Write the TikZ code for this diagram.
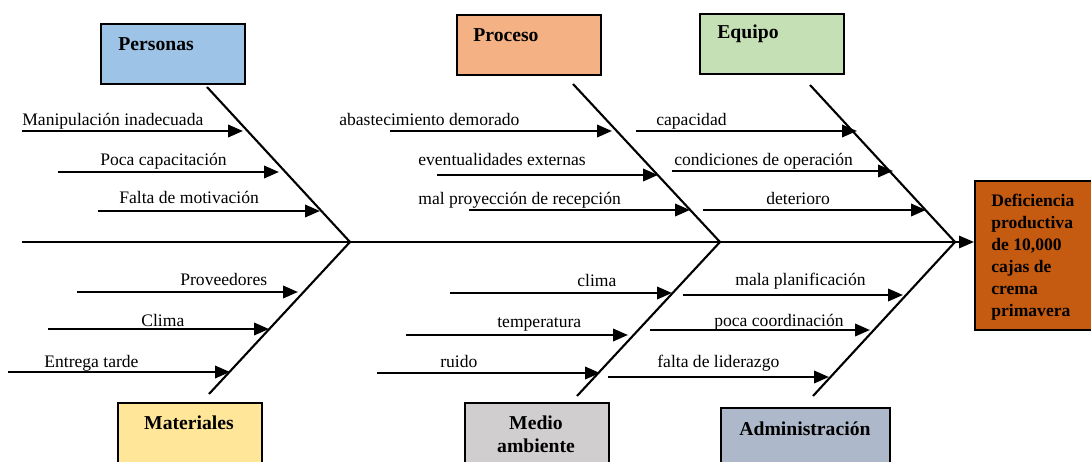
\documentclass[tikz,border=0pt]{standalone}
\usepackage{fontspec}
\setmainfont{Liberation Serif}
\usetikzlibrary{arrows.meta}
\definecolor{cPer}{HTML}{9DC3E6}
\definecolor{cPro}{HTML}{F4B183}
\definecolor{cEqu}{HTML}{C5E0B4}
\definecolor{cMat}{HTML}{FFE699}
\definecolor{cMed}{HTML}{D0CECE}
\definecolor{cAdm}{HTML}{ADB9CA}
\definecolor{cEff}{HTML}{C55A11}
\begin{document}
\begin{tikzpicture}[x=0.02cm,y=-0.02cm,
  catbox/.style={draw=black,line width=1.1pt,anchor=north west,inner sep=0pt,minimum width=2.88cm,minimum height=1.2cm},
  cattext/.style={font=\fontsize{11.2}{13.5}\selectfont\bfseries,inner sep=0pt},
  bone/.style={line width=1.2pt},
  spine/.style={line width=1.2pt,-{Triangle[length=8.5pt,width=7pt]}},
  cause/.style={line width=1.4pt,-{Triangle[length=8.5pt,width=7pt]}},
  lbl/.style={font=\fontsize{10}{12}\selectfont,anchor=base west,inner sep=0pt}]
\clip (0,0) rectangle (1091,462);
% category boxes
\node[catbox,fill=cPer] (per) at (100,23) {};
\node[cattext,anchor=base west] (perT) at (118,51) {Personas};
\node[catbox,fill=cPro] (pro) at (456,14) {};
\node[cattext,anchor=base west] (proT) at (473,42) {Proceso};
\node[catbox,fill=cEqu] (equ) at (699,13) {};
\node[cattext,anchor=base west] (equT) at (717,39) {Equipo};
\node[catbox,fill=cMat,minimum height=1.4cm] (mat) at (117,402) {};
\node[cattext,anchor=base] (matT) at (189,429) {Materiales};
\node[catbox,fill=cMed,minimum height=1.4cm] (med) at (464,402) {};
\node[cattext,anchor=base] (medT1) at (536,429) {Medio};
\node[cattext,anchor=base] (medT2) at (536,452) {ambiente};
\node[catbox,fill=cAdm,minimum width=3.38cm,minimum height=1.4cm] (adm) at (720,407) {};
\node[cattext,anchor=base west] (admT) at (739,435) {Administración};
% effect
\node[draw=black,line width=1.1pt,fill=cEff,anchor=north west,inner sep=0pt,minimum width=2.34cm,minimum height=2.98cm] (eff) at (974,180) {};
\node[anchor=north west,inner sep=0pt,align=left,font=\fontsize{10}{12.5}\selectfont\bfseries] (effT) at (991,194) {Deficiencia\\productiva\\de 10,000\\cajas de\\crema\\primavera};
% spine
\coordinate (tail) at (22,242);
\coordinate (J1) at (350,242);
\coordinate (J2) at (720,242);
\coordinate (J3) at (955,242);
\draw[spine] (tail) -- (tail -| eff.west);
% bones
\coordinate (P0) at (207,87);
\coordinate (Q0) at (573,84);
\coordinate (E0) at (810,85);
\coordinate (M0) at (209,394);
\coordinate (N0) at (577,396);
\coordinate (A0) at (813,396);
\draw[bone] (P0) -- (J1) -- (M0);
\draw[bone] (Q0) -- (J2) -- (N0);
\draw[bone] (E0) -- (J3) -- (A0);
% causes: Personas
\coordinate (p1s) at (22,131);  \coordinate (p1t) at (243,131);
\coordinate (p2s) at (58,172);  \coordinate (p2t) at (279,172);
\coordinate (p3s) at (98,211);  \coordinate (p3t) at (320,211);
% Proceso
\coordinate (q1s) at (390,131); \coordinate (q1t) at (612,131);
\coordinate (q2s) at (437,175); \coordinate (q2t) at (658,175);
\coordinate (q3s) at (469,210); \coordinate (q3t) at (690,210);
% Equipo
\coordinate (e1s) at (636,131); \coordinate (e1t) at (857,131);
\coordinate (e2s) at (672,171); \coordinate (e2t) at (893,171);
\coordinate (e3s) at (703,210); \coordinate (e3t) at (926,210);
% Materiales
\coordinate (m1s) at (77,292);  \coordinate (m1t) at (298,292);
\coordinate (m2s) at (48,329);  \coordinate (m2t) at (269,329);
\coordinate (m3s) at (8,372);   \coordinate (m3t) at (230,372);
% Medio ambiente
\coordinate (n1s) at (450,293); \coordinate (n1t) at (672,293);
\coordinate (n2s) at (406,335); \coordinate (n2t) at (628,335);
\coordinate (n3s) at (377,373); \coordinate (n3t) at (600,373);
% Administracion
\coordinate (a1s) at (683,295); \coordinate (a1t) at (903,295);
\coordinate (a2s) at (650,330); \coordinate (a2t) at (870,330);
\coordinate (a3s) at (608,377); \coordinate (a3t) at (829,377);
\foreach \c in {p1,p2,p3,q1,q2,q3,e1,e2,e3,m1,m2,m3,n1,n2,n3,a1,a2,a3}
  \draw[cause] (\c s) -- (\c t);
% labels
\node[lbl] (lp1) at (22,126) {Manipulación inadecuada};
\node[lbl] (lp2) at (100,166) {Poca capacitación};
\node[lbl] (lp3) at (119,204) {Falta de motivación};
\node[lbl] (lq1) at (339,126) {abastecimiento demorado};
\node[lbl] (lq2) at (418,166) {eventualidades externas};
\node[lbl] (lq3) at (418,205) {mal proyección de recepción};
\node[lbl] (le1) at (656,126) {capacidad};
\node[lbl] (le2) at (674,166) {condiciones de operación};
\node[lbl] (le3) at (766,205) {deterioro};
\node[lbl] (lm1) at (180,286) {Proveedores};
\node[lbl] (lm2) at (141,326) {Clima};
\node[lbl] (lm3) at (44,367) {Entrega tarde};
\node[lbl] (ln1) at (577,287) {clima};
\node[lbl] (ln2) at (497,327) {temperatura};
\node[lbl] (ln3) at (440,367) {ruido};
\node[lbl] (la1) at (735,286) {mala planificación};
\node[lbl] (la2) at (714,326) {poca coordinación};
\node[lbl] (la3) at (657,367) {falta de liderazgo};
\end{tikzpicture}
\end{document}
